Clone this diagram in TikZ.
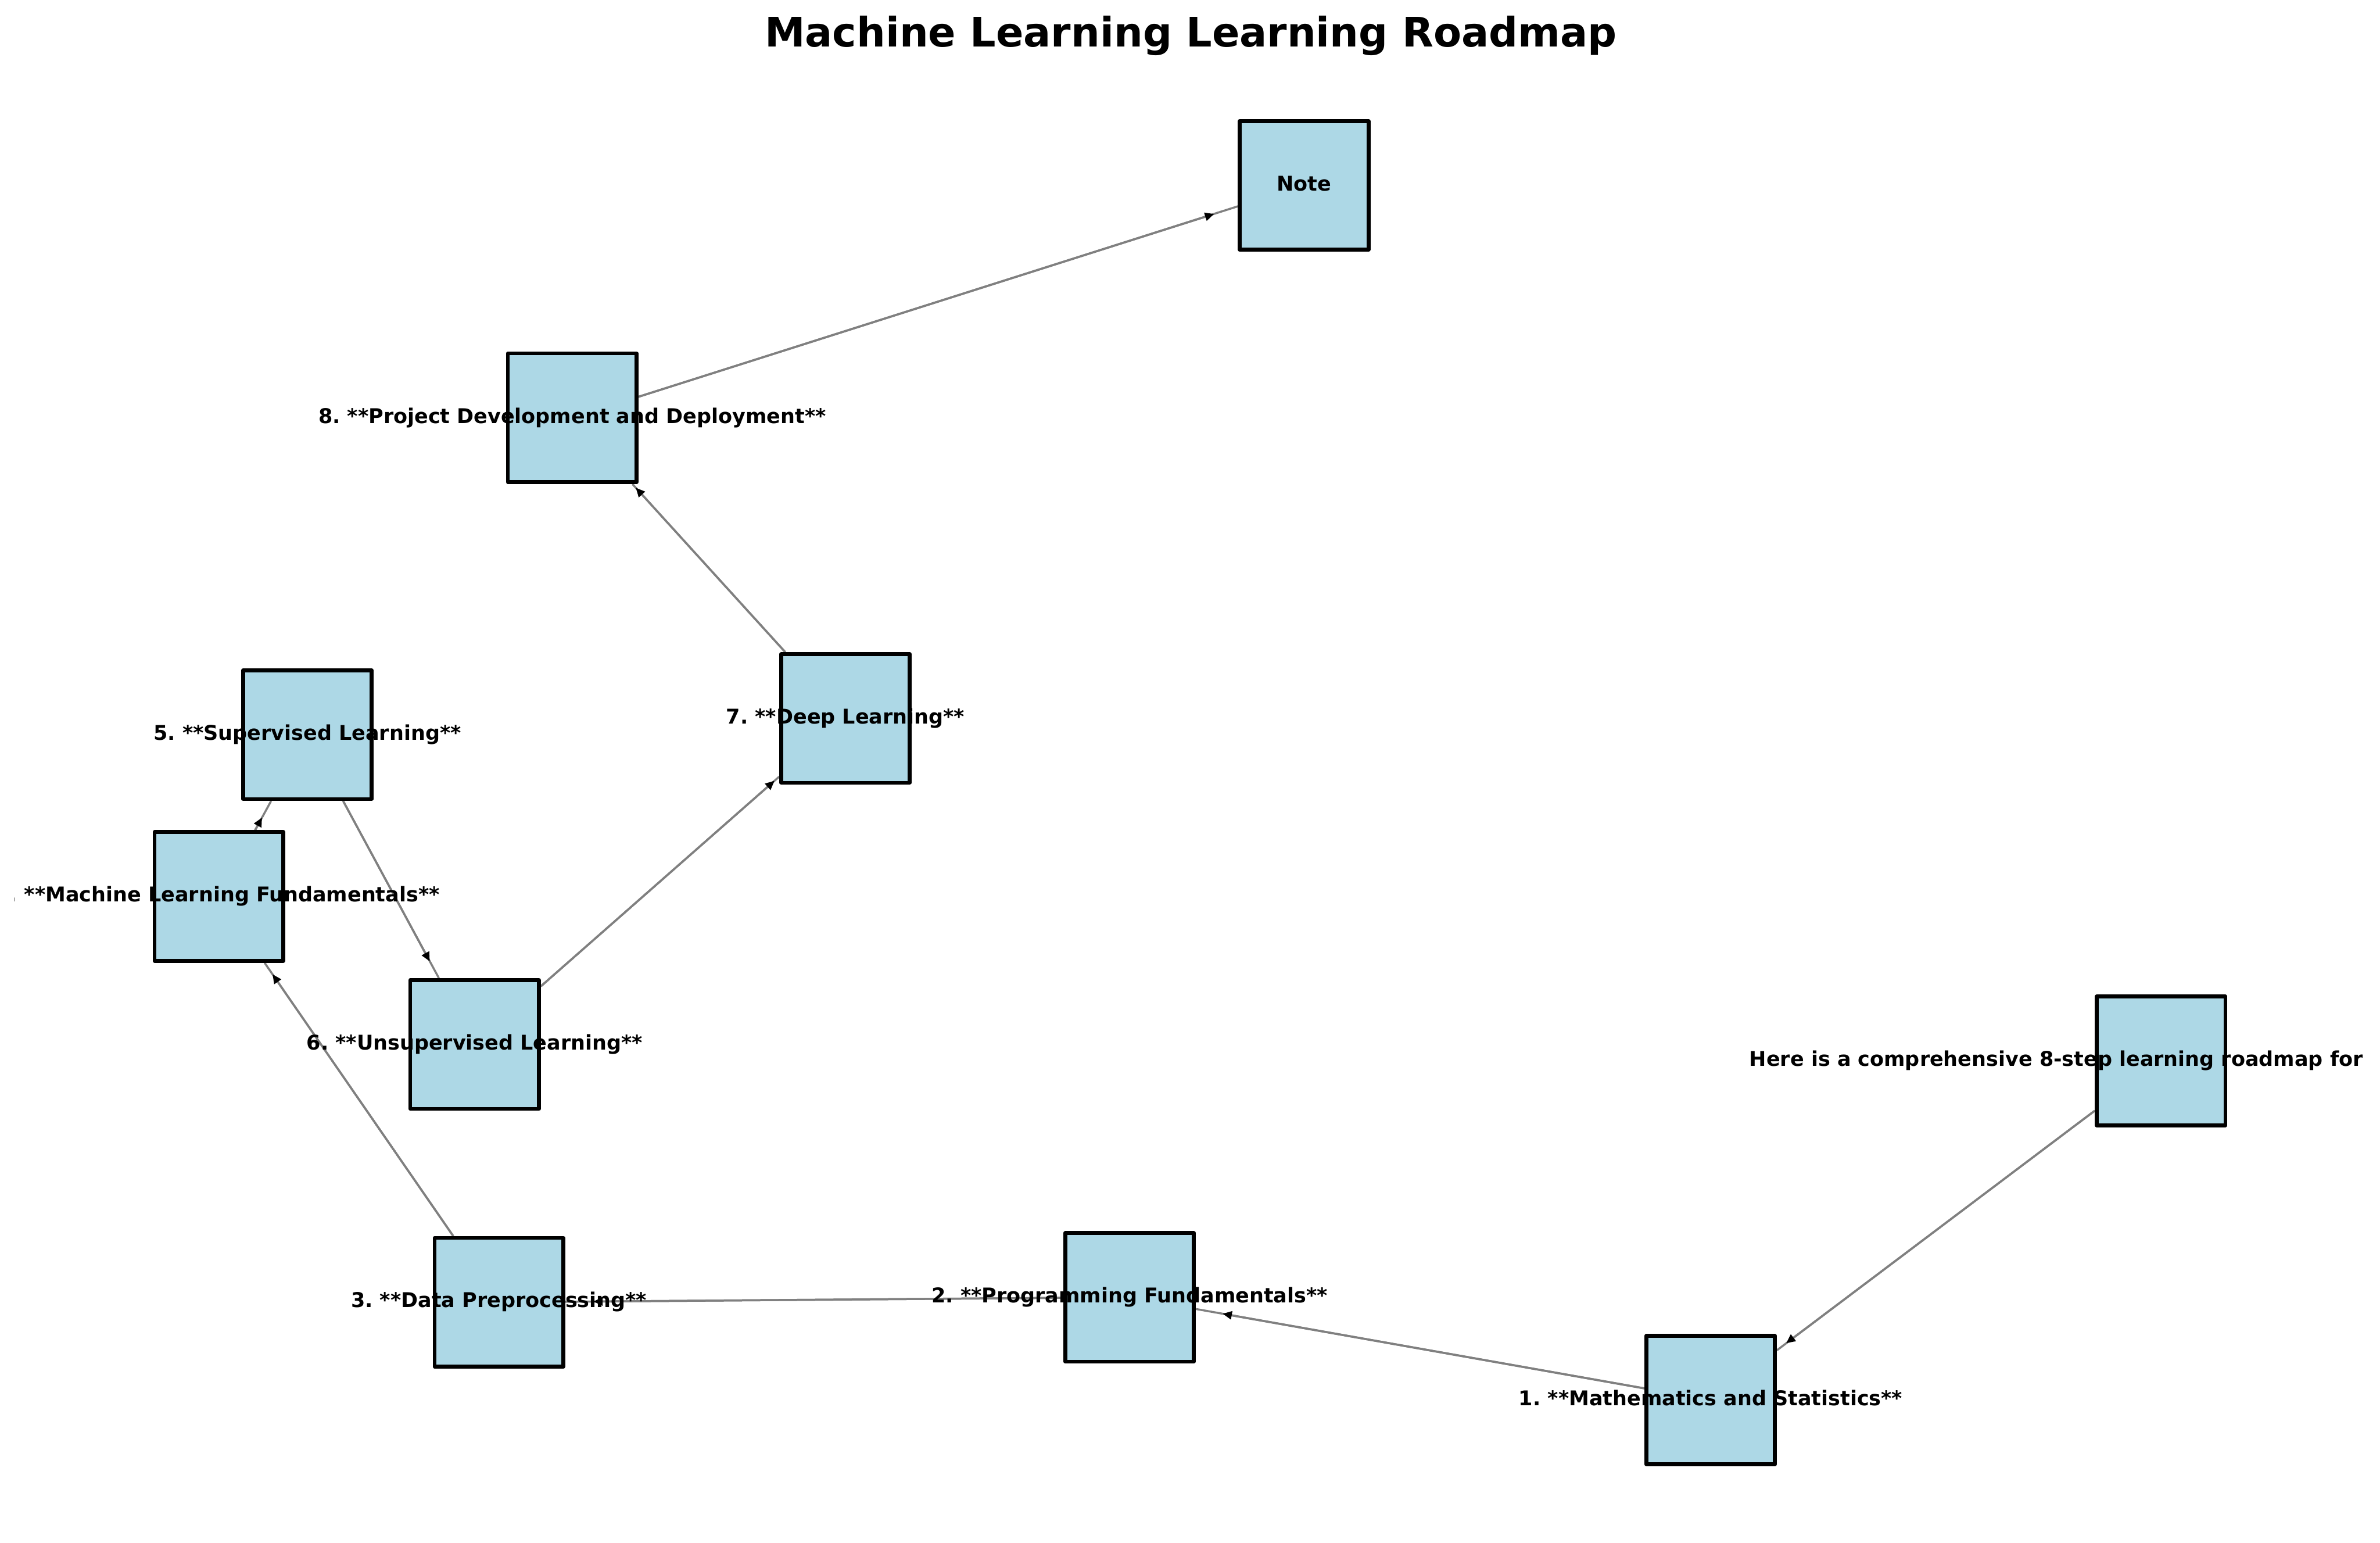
\documentclass[tikz,border=0pt]{standalone}
\usepackage{fontspec}
\setmainfont{DejaVu Sans}
\usetikzlibrary{arrows.meta}
\pgfdeclarelayer{background}
\pgfsetlayers{background,main}
\definecolor{boxblue}{HTML}{ADD8E6}
\frenchspacing

\begin{document}
\begin{tikzpicture}[x=0.2625mm,y=-0.2625mm,
    stepbox/.style={draw=black,fill=boxblue,line width=1.9pt,line join=round,minimum size=22.26mm,inner sep=0pt},
    ring/.style={circle,minimum size=32.55mm,inner sep=0pt},
    steplabel/.style={font=\bfseries\fontsize{10}{12}\selectfont,text height=7.6pt,text depth=2.4pt,inner sep=0pt},
    link/.style={draw=gray,line width=1pt},
    tip/.style={-{Triangle[length=4.5pt,width=4pt,color=black]}}]

    \useasboundingbox (0,0) rectangle (1568,1016);

    \node[font=\bfseries\fontsize{20}{24}\selectfont,anchor=base] (title) at (784.5,30.7) {Machine Learning Learning Roadmap};

    \node[stepbox] (intro) at (1423.7,698.8) {};
    \node[stepbox] (m1) at (1127,922.2) {};
    \node[stepbox] (m2) at (744.2,854.5) {};
    \node[stepbox] (m3) at (328.7,857.8) {};
    \node[stepbox] (m4) at (144.2,590.5) {};
    \node[stepbox] (m5) at (202.5,483.9) {};
    \node[stepbox] (m6) at (312.7,688) {};
    \node[stepbox] (m7) at (557,473.2) {};
    \node[stepbox] (m8) at (377,275.2) {};
    \node[stepbox] (note) at (859.2,122.1) {};

    \foreach \n in {intro,m1,m2,m3,m4,m5,m6,m7,m8,note}
        \node[ring] (\n-ring) at (\n) {};

    \begin{pgfonlayer}{background}
    \foreach \a/\b in {intro/m1,m1/m2,m2/m3,m3/m4,m4/m5,m5/m6,m6/m7,m7/m8,m8/note} {
        \draw[link] (\a) -- (\b);
        \draw[link,tip] (\a) -- (\b-ring);
    }
    \end{pgfonlayer}

    \begin{scope}
    \clip (9.7,0) rectangle (1558.3,1016);
    \node[steplabel,anchor=east] (intro-text) at (1557,698.8) {Here is a comprehensive 8-step learning roadmap for};
    \node[steplabel] (m1-text) at (m1) {1. **Mathematics and Statistics**};
    \node[steplabel] (m2-text) at (m2) {2. **Programming Fundamentals**};
    \node[steplabel] (m3-text) at (m3) {3. **Data Preprocessing**};
    \node[steplabel,anchor=east] (m4-text) at (289.9,590.5) {. **Machine Learning Fundamentals**};
    \node[steplabel] (m5-text) at (m5) {5. **Supervised Learning**};
    \node[steplabel] (m6-text) at (m6) {6. **Unsupervised Learning**};
    \node[steplabel] (m7-text) at (m7) {7. **Deep Learning**};
    \node[steplabel] (m8-text) at (m8) {8. **Project Development and Deployment**};
    \node[steplabel] (note-text) at (note) {Note};
    \end{scope}

\end{tikzpicture}
\end{document}
